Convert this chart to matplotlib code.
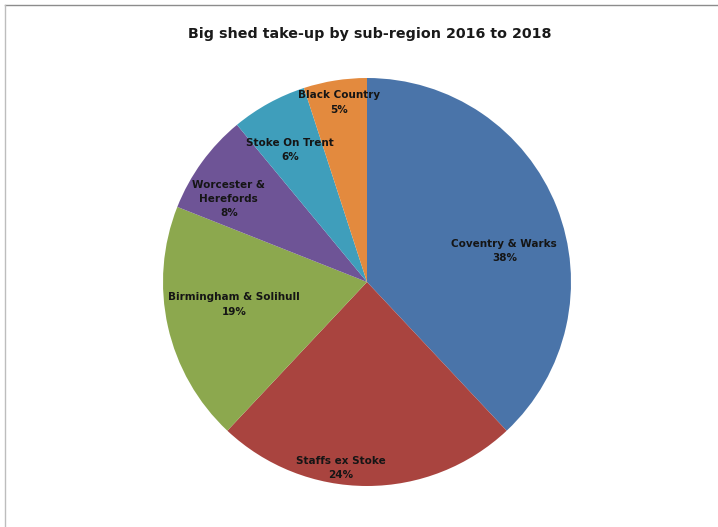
import numpy as np
import matplotlib
matplotlib.use('Agg')
import matplotlib.pyplot as plt
from matplotlib.lines import Line2D

# data
regions = ["Coventry & Warks", "Staffs ex Stoke", "Birmingham & Solihull",
           "Worcester &\nHerefords", "Stoke On Trent", "Black Country"]
shares = [38, 24, 19, 8, 6, 5]
colors = ["#4A74A9", "#A9443F", "#8CA84E", "#6E5496", "#3F9EBB", "#E38A3E"]

# label placement (fraction of radius, angle tweak in degrees)
label_dist = [0.69, 0.92, 0.66, 0.79, 0.75, 0.89]
label_shift = [-9, -8, -3, 5, 1.5, 0]

W, H = 718, 527
fig = plt.figure(figsize=(W / 100, H / 100), dpi=100)
ax = fig.add_axes([0, 0, 1, 1])

cx, cy, r = 367, H - 282, 204
wedges, _ = ax.pie(shares, colors=colors, startangle=90, counterclock=False,
                   center=(cx, cy), radius=r, frame=True,
                   wedgeprops=dict(linewidth=0))
ax.set_xlim(0, W)
ax.set_ylim(0, H)
ax.set_aspect('equal')
ax.axis('off')

for w, name, val, d, s in zip(wedges, regions, shares, label_dist, label_shift):
    ang = np.deg2rad((w.theta1 + w.theta2) / 2 + s)
    x = cx + d * r * np.cos(ang)
    y = cy + d * r * np.sin(ang)
    ax.text(x, y, f"{name}\n{val}%", ha='center', va='center',
            fontsize=7.5, fontweight='bold', color='#151515',
            linespacing=1.55)

ax.text(370, H - 34, "Big shed take-up by sub-region 2016 to 2018",
        ha='center', va='center', fontsize=10.3, fontweight='bold', color='#1a1a1a')

# frame lines along top and left
fig.add_artist(Line2D([5 / W, 1], [1 - 5 / H, 1 - 5 / H], transform=fig.transFigure,
                      color='#8c8c8c', linewidth=1))
fig.add_artist(Line2D([5 / W, 5 / W], [0, 1 - 5 / H], transform=fig.transFigure,
                      color='#bdbdbd', linewidth=1))

plt.savefig('out.png', dpi=100)
plt.close(fig)
